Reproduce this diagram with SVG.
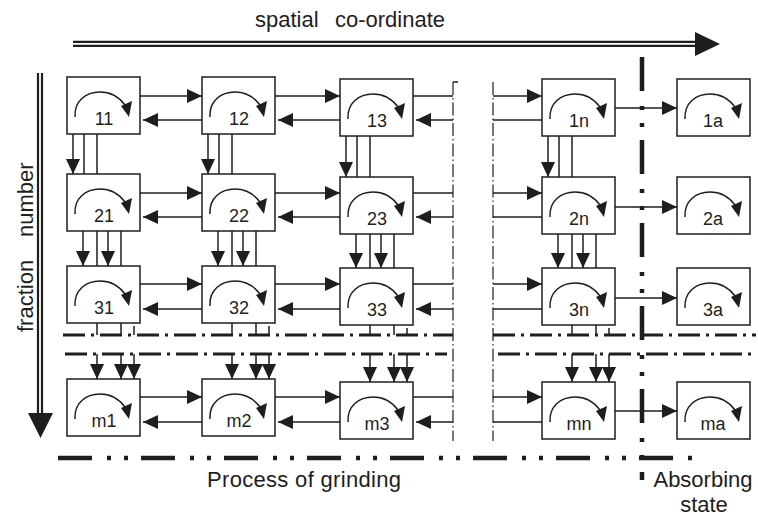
<svg xmlns="http://www.w3.org/2000/svg" xmlns:xlink="http://www.w3.org/1999/xlink" width="758" height="518" viewBox="0 0 758 518">
<style>
.box{fill:#fff;stroke:#1e1e1e;stroke-width:1.5}
.lbl{font-family:"Liberation Sans",Arial,sans-serif;font-size:18px;fill:#1e1e1e;text-anchor:middle}
.big{font-family:"Liberation Sans",Arial,sans-serif;font-size:22px;fill:#1e1e1e}
.ln{fill:none;stroke:#1e1e1e;stroke-width:1.5}
.ar{fill:none;stroke:#1e1e1e;stroke-width:1.5;marker-end:url(#ah)}
.thin{fill:none;stroke:#1e1e1e;stroke-width:1.2;stroke-dasharray:13 3 1.5 3}
.dd{fill:none;stroke:#1e1e1e;stroke-width:3;stroke-dasharray:22 6 3 6}
.ddd{fill:none;stroke:#1e1e1e;stroke-width:4.5;stroke-dasharray:34 15 4 13 4 13}
.dbl{fill:none;stroke:#1e1e1e;stroke-width:2.2}
</style>
<defs>
<marker id="ah" markerUnits="userSpaceOnUse" markerWidth="15" markerHeight="14" refX="15" refY="7" orient="auto" viewBox="0 0 15 14">
<path d="M0,0 L15,7 L0,14 z" fill="#1e1e1e"/>
</marker>
<g id="loop">
<path d="M8,40 C7,24 19,15 33,15 C44,15 52,20 58,28" fill="none" stroke="#1e1e1e" stroke-width="1.5"/>
<polygon points="54,29 65,24 62,40" fill="#1e1e1e"/>
</g>
</defs>

<g id="axes">
<path class="dbl" d="M73,41.8 H697 M73,45.8 H697"/>
<polygon points="695,32 720,44 695,56" fill="#1e1e1e"/>
<path class="dbl" d="M38,73 V415 M42,73 V415"/>
<polygon points="28,413 53,413 40.5,438" fill="#1e1e1e"/>
<text class="big" x="255" y="27">spatial</text>
<text class="big" x="335" y="27">co-ordinate</text>
<text class="big" x="33" y="332" transform="rotate(-90 33 332)">fraction</text>
<text class="big" x="33" y="237" transform="rotate(-90 33 237)">number</text>
<text class="big" x="207" y="487" textLength="194">Process of grinding</text>
<text class="big" x="703" y="487" text-anchor="middle">Absorbing</text>
<text class="big" x="704" y="512" text-anchor="middle">state</text>
</g>

<g id="boundaries">
<path class="thin" d="M453,82 V441 M493,82 V441"/>
<path class="ln" d="M453,82 h5" stroke-width="1.2"/>
<path class="dd" d="M63,335 H453"/>
<path class="dd" d="M493,335 H756"/>
<path class="dd" d="M65,354 H447"/>
<path class="dd" d="M498,354 H756"/>
<path class="ddd" d="M642,57 V480"/>
<path class="ddd" d="M58,458 H692"/>
</g>

<g id="connectors">
<path class="ar" d="M140,96 H202"/><path class="ar" d="M202,120 H143"/>
<path class="ar" d="M275,96 H340"/><path class="ar" d="M340,120 H278"/>
<path class="ln" d="M413,96 H453 M542,120 H493"/><path class="ar" d="M453,120 H416"/>
<path class="ar" d="M493,96 H542"/><path class="ar" d="M615,108 H677"/>
<path class="ar" d="M140,193 H202"/><path class="ar" d="M202,217 H143"/>
<path class="ar" d="M275,193 H340"/><path class="ar" d="M340,217 H278"/>
<path class="ln" d="M413,193 H453 M542,217 H493"/><path class="ar" d="M453,217 H416"/>
<path class="ar" d="M493,193 H542"/><path class="ar" d="M615,207 H677"/>
<path class="ar" d="M140,284 H202"/><path class="ar" d="M202,309 H143"/>
<path class="ar" d="M275,284 H340"/><path class="ar" d="M340,309 H278"/>
<path class="ln" d="M413,284 H453 M542,309 H493"/><path class="ar" d="M453,309 H416"/>
<path class="ar" d="M493,284 H542"/><path class="ar" d="M615,298 H677"/>
<path class="ar" d="M140,397 H202"/><path class="ar" d="M202,422 H143"/>
<path class="ar" d="M275,397 H340"/><path class="ar" d="M340,422 H278"/>
<path class="ln" d="M413,397 H453 M542,422 H493"/><path class="ar" d="M453,422 H416"/>
<path class="ar" d="M493,397 H542"/><path class="ar" d="M615,411 H677"/>

<path class="ln" d="M84,134 V174 M97,134 V174 M219,134 V174 M232,134 V174 M357,136 V177 M370,136 V177 M559,136 V177 M572,136 V177"/>
<path class="ar" d="M73,134 V174"/><path class="ar" d="M208,134 V174"/>
<path class="ar" d="M346,136 V177"/><path class="ar" d="M548,136 V177"/>
<path class="ln" d="M97,231 V266 M121,231 V266 M232,231 V266 M256,231 V266 M370,234 V268 M394,234 V268 M572,234 V268 M596,234 V268"/>
<path class="ar" d="M83,231 V266"/><path class="ar" d="M108,231 V266"/>
<path class="ar" d="M218,231 V266"/><path class="ar" d="M243,231 V266"/>
<path class="ar" d="M356,234 V268"/><path class="ar" d="M381,234 V268"/>
<path class="ar" d="M558,234 V268"/><path class="ar" d="M583,234 V268"/>
<path class="ln" d="M97,323 V335 M121,323 V335 M134,326 V335 M232,323 V335 M256,323 V335 M269,326 V335 M370,325 V335 M394,325 V335 M407,328 V335 M572,325 V335 M596,325 V335 M609,328 V335"/>
<path class="ar" d="M97,354 V379"/><path class="ar" d="M121,354 V379"/><path class="ar" d="M134,354 V379"/>
<path class="ar" d="M232,354 V379"/><path class="ar" d="M256,354 V379"/><path class="ar" d="M269,354 V379"/>
<path class="ar" d="M370,354 V382"/><path class="ar" d="M394,354 V382"/><path class="ar" d="M407,354 V382"/>
<path class="ar" d="M572,354 V382"/><path class="ar" d="M596,354 V382"/><path class="ar" d="M609,354 V382"/>
</g>

<g id="n11"><rect class="box" x="67" y="77" width="73" height="57"/><use xlink:href="#loop" href="#loop" x="67" y="77"/><text class="lbl" x="104" y="125">11</text></g>
<g id="n12"><rect class="box" x="202" y="77" width="73" height="57"/><use xlink:href="#loop" href="#loop" x="202" y="77"/><text class="lbl" x="239" y="125">12</text></g>
<g id="n13"><rect class="box" x="340" y="79" width="73" height="57"/><use xlink:href="#loop" href="#loop" x="340" y="79"/><text class="lbl" x="377" y="127">13</text></g>
<g id="n1n"><rect class="box" x="542" y="79" width="73" height="57"/><use xlink:href="#loop" href="#loop" x="542" y="79"/><text class="lbl" x="579" y="127">1n</text></g>
<g id="n1a"><rect class="box" x="677" y="79" width="73" height="57"/><use xlink:href="#loop" href="#loop" x="677" y="79"/><text class="lbl" x="713" y="127">1a</text></g>

<g id="n21"><rect class="box" x="67" y="174" width="73" height="57"/><use xlink:href="#loop" href="#loop" x="67" y="174"/><text class="lbl" x="104" y="222">21</text></g>
<g id="n22"><rect class="box" x="202" y="174" width="73" height="57"/><use xlink:href="#loop" href="#loop" x="202" y="174"/><text class="lbl" x="239" y="222">22</text></g>
<g id="n23"><rect class="box" x="340" y="177" width="73" height="57"/><use xlink:href="#loop" href="#loop" x="340" y="177"/><text class="lbl" x="377" y="225">23</text></g>
<g id="n2n"><rect class="box" x="542" y="177" width="73" height="57"/><use xlink:href="#loop" href="#loop" x="542" y="177"/><text class="lbl" x="579" y="225">2n</text></g>
<g id="n2a"><rect class="box" x="677" y="177" width="73" height="57"/><use xlink:href="#loop" href="#loop" x="677" y="177"/><text class="lbl" x="713" y="225">2a</text></g>

<g id="n31"><rect class="box" x="67" y="266" width="73" height="57"/><use xlink:href="#loop" href="#loop" x="67" y="266"/><text class="lbl" x="104" y="314">31</text></g>
<g id="n32"><rect class="box" x="202" y="266" width="73" height="57"/><use xlink:href="#loop" href="#loop" x="202" y="266"/><text class="lbl" x="239" y="314">32</text></g>
<g id="n33"><rect class="box" x="340" y="268" width="73" height="57"/><use xlink:href="#loop" href="#loop" x="340" y="268"/><text class="lbl" x="377" y="316">33</text></g>
<g id="n3n"><rect class="box" x="542" y="268" width="73" height="57"/><use xlink:href="#loop" href="#loop" x="542" y="268"/><text class="lbl" x="579" y="316">3n</text></g>
<g id="n3a"><rect class="box" x="677" y="268" width="73" height="57"/><use xlink:href="#loop" href="#loop" x="677" y="268"/><text class="lbl" x="713" y="316">3a</text></g>

<g id="nm1"><rect class="box" x="67" y="379" width="73" height="57"/><use xlink:href="#loop" href="#loop" x="67" y="379"/><text class="lbl" x="104" y="427">m1</text></g>
<g id="nm2"><rect class="box" x="202" y="379" width="73" height="57"/><use xlink:href="#loop" href="#loop" x="202" y="379"/><text class="lbl" x="239" y="427">m2</text></g>
<g id="nm3"><rect class="box" x="340" y="382" width="73" height="57"/><use xlink:href="#loop" href="#loop" x="340" y="382"/><text class="lbl" x="377" y="430">m3</text></g>
<g id="nmn"><rect class="box" x="542" y="382" width="73" height="57"/><use xlink:href="#loop" href="#loop" x="542" y="382"/><text class="lbl" x="579" y="430">mn</text></g>
<g id="nma"><rect class="box" x="677" y="382" width="73" height="57"/><use xlink:href="#loop" href="#loop" x="677" y="382"/><text class="lbl" x="713" y="430">ma</text></g>
</svg>
